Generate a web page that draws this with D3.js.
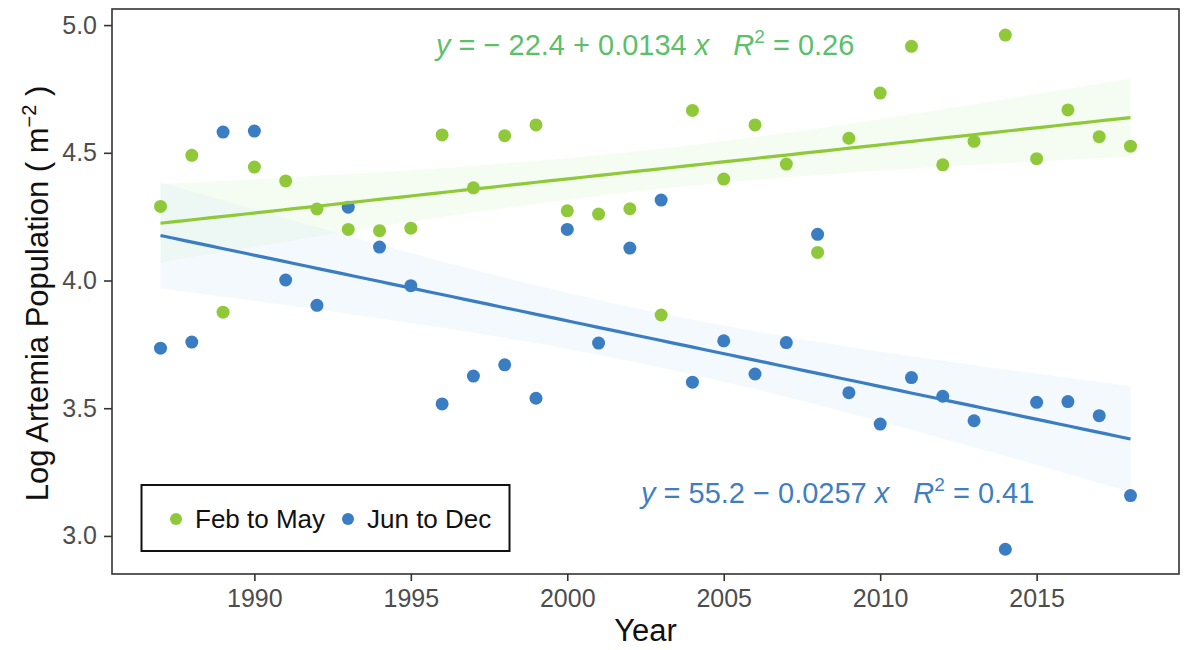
<!DOCTYPE html>
<html>
<head>
<meta charset="utf-8">
<script src="https://cdn.jsdelivr.net/npm/d3@7"></script>
<style>
body { margin:0; background:#fff; }
text { font-family: "Liberation Sans", Arial, sans-serif; }
</style>
</head>
<body>
<svg width="1185" height="650"></svg>
<script>
// years 1987..2018
var years = d3.range(1987, 2019);
var febMay = [4.29,4.49,3.876,4.444,4.39,4.28,4.20,4.195,4.205,4.57,4.363,4.567,4.609,4.273,4.26,4.281,
              3.865,4.666,4.397,4.609,4.456,4.11,4.557,4.734,4.917,4.453,4.545,4.961,4.477,4.668,4.563,4.526];
var junDec = [3.735,3.759,4.581,4.585,4.002,3.903,4.287,4.131,3.98,3.517,3.626,3.67,3.539,4.20,3.755,4.127,
              4.315,3.602,3.764,3.634,3.757,4.181,3.561,3.438,3.62,3.547,3.451,2.948,3.523,3.526,3.471,3.158];
var xTicks = [1990, 1995, 2000, 2005, 2010, 2015];
var yTicks = [3.0, 3.5, 4.0, 4.5, 5.0];
var seriesNames = ['Feb to May', 'Jun to Dec'];
var colors = ['#8fc93a', '#3a7dc2'];
var bandColors = ['#e6f6da', '#dfeffb'];
var eqColors = ['#5cbf6a', '#3f7fc0'];

var svg = d3.select('svg');
var L = 112, R = 1179, T = 9, B = 574;

var x = d3.scaleLinear().domain([1985.45, 2019.55]).range([L, R]);
var y = d3.scaleLinear().domain([2.851, 5.063]).range([B, T]);

// linear fit with 95% band
function fit(xs, ys) {
	var n = xs.length, mx = d3.mean(xs), my = d3.mean(ys);
	var sxx = d3.sum(xs, function(v){ return (v-mx)*(v-mx); });
	var sxy = d3.sum(xs, function(v,i){ return (v-mx)*(ys[i]-my); });
	var b = sxy/sxx, a = my - b*mx;
	var sse = d3.sum(xs, function(v,i){ var r = ys[i]-(a+b*v); return r*r; });
	var s = Math.sqrt(sse/(n-2));
	var tq = 2.042;
	var pts = d3.range(0, 81).map(function(k){
		var xv = xs[0] + (xs[n-1]-xs[0])*k/80;
		var yv = a + b*xv;
		var se = s*Math.sqrt(1/n + (xv-mx)*(xv-mx)/sxx);
		return {x:xv, y:yv, lo:yv - tq*se, hi:yv + tq*se};
	});
	return pts;
}

var all = [febMay, junDec];
var fits = all.map(function(s){ return fit(years, s); });

var area = d3.area().x(function(d){ return x(d.x); }).y0(function(d){ return y(d.lo); }).y1(function(d){ return y(d.hi); });
var line = d3.line().x(function(d){ return x(d.x); }).y(function(d){ return y(d.y); });

fits.forEach(function(f, i){
	svg.append('path').attr('d', area(f)).attr('fill', bandColors[i]).attr('opacity', 0.38);
});

// points
all.forEach(function(s, i){
	svg.append('g').selectAll('circle')
		.data(s)
		.enter()
		.append('circle')
		.attr('cx', function(d, j){ return x(years[j]); })
		.attr('cy', function(d){ return y(d); })
		.attr('r', 6.5)
		.attr('fill', colors[i]);
});

fits.forEach(function(f, i){
	svg.append('path').attr('d', line(f)).attr('fill', 'none').attr('stroke', colors[i]).attr('stroke-width', 3.2);
});

// panel border
svg.append('rect').attr('x', L).attr('y', T).attr('width', R-L).attr('height', B-T)
	.attr('fill', 'none').attr('stroke', '#333').attr('stroke-width', 1.6);

// axes
var xAxis = svg.append('g').attr('transform', 'translate(0,' + B + ')')
	.call(d3.axisBottom(x).tickValues(xTicks).tickFormat(d3.format('d')).tickSize(7).tickPadding(8));
var yAxis = svg.append('g').attr('transform', 'translate(' + L + ',0)')
	.call(d3.axisLeft(y).tickValues(yTicks).tickFormat(d3.format('.1f')).tickSize(8).tickPadding(7));
[xAxis, yAxis].forEach(function(g){
	g.select('.domain').remove();
	g.selectAll('line').attr('stroke', '#333').attr('stroke-width', 1.6);
	g.selectAll('text').attr('fill', '#4d4d4d').style('font-size', '25px').style('font-family', '"Liberation Sans", Arial, sans-serif');
});

// axis titles
svg.append('text').attr('x', (L+R)/2).attr('y', 641).attr('text-anchor', 'middle')
	.style('font-size', '31px').attr('fill', '#111').text('Year');
var yl = svg.append('text').attr('transform', 'translate(48,' + ((T+B)/2 + 2) + ') rotate(-90)')
	.attr('text-anchor', 'middle').style('font-size', '31px').attr('fill', '#111');
yl.append('tspan').text('Log Artemia Population ( m');
yl.append('tspan').attr('dy', -12).style('font-size', '20px').text('\u22122');
yl.append('tspan').attr('dy', 12).text(' )');

// equations
function eq(tx, ty, col, parts) {
	var t = svg.append('text').attr('x', tx).attr('y', ty).attr('fill', col)
		.style('font-size', '29px').style('white-space', 'pre');
	parts.forEach(function(p){
		var s = t.append('tspan').text(p.t);
		if (p.it) s.style('font-style', 'italic');
		if (p.dy) s.attr('dy', p.dy);
		if (p.dx) s.attr('dx', p.dx);
		if (p.fs) s.style('font-size', p.fs);
	});
}
eq(436, 55, eqColors[0], [
	{t:'y', it:true}, {t:' = \u2212 22.4 + 0.0134 '}, {t:'x', it:true}, {t:'R', it:true, dx:24},
	{t:'2', dy:-12, fs:'19px'}, {t:' = 0.26', dy:12}
]);
eq(641, 503, eqColors[1], [
	{t:'y', it:true}, {t:' = 55.2 \u2212 0.0257 '}, {t:'x', it:true}, {t:'R', it:true, dx:24},
	{t:'2', dy:-12, fs:'19px'}, {t:' = 0.41', dy:12}
]);

// legend
var lg = svg.append('g');
lg.append('rect').attr('x', 141.5).attr('y', 485).attr('width', 368).attr('height', 66)
	.attr('fill', '#fff').attr('stroke', '#111').attr('stroke-width', 2);
var lx = [176, 348];
seriesNames.forEach(function(n, i){
	lg.append('circle').attr('cx', lx[i]).attr('cy', 519).attr('r', 6).attr('fill', colors[i]);
	lg.append('text').attr('x', lx[i] + 19).attr('y', 528).style('font-size', '26px').attr('fill', '#111').text(n);
});
</script>
</body>
</html>
